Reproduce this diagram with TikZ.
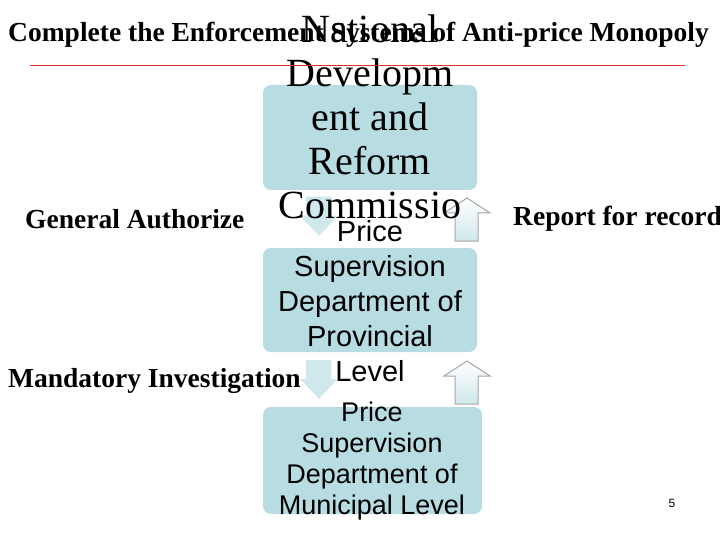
\documentclass[tikz,border=0pt]{standalone}
\usepackage{fontspec}
\setmainfont{Liberation Serif}
\newfontfamily\sansf{Liberation Sans}
\definecolor{boxblue}{HTML}{B7DDE3}
\definecolor{arrblue}{HTML}{CFE8EC}
\definecolor{rulered}{HTML}{E03030}
\begin{document}
\begin{tikzpicture}[x=1pt,y=-1pt,
  box/.style={fill=boxblue,rounded corners=8pt,draw=none},
  lab/.style={font=\bfseries\fontsize{27.5}{30}\selectfont,anchor=west,inner sep=0},
  btext/.style={align=center,inner sep=0},
  darrow/.style={fill=arrblue,draw=white,line width=1.5pt,line join=miter},
  uarrow/.style={top color=white,bottom color=arrblue,draw=gray!70,line width=1pt}]
\useasboundingbox (0,0) rectangle (720,540);
\node[box,minimum width=214pt,minimum height=105pt] (b1) at (370,137.5) {};
\node[box,minimum width=214pt,minimum height=104pt] (b2) at (370,300) {};
\node[box,minimum width=219pt,minimum height=107pt] (b3) at (372.5,460.5) {};
\foreach \y in {0,163}{
  \draw[darrow] (305,196+\y) -- (332,196+\y) -- (332,215+\y) -- (340,215+\y) -- (319,237+\y) -- (298,215+\y) -- (305,215+\y) -- cycle;
  \draw[uarrow] (467,198+\y) -- (490,213+\y) -- (478,213+\y) -- (478,241+\y) -- (455,241+\y) -- (455,213+\y) -- (444,213+\y) -- cycle;
}
\node[btext,font=\fontsize{40}{44}\selectfont] (t1) at (370,117) {National\\Developm\\ent and\\Reform\\Commissio};
\node[btext,font=\sansf\fontsize{29}{35}\selectfont] (t2) at (370,301) {Price\\Supervision\\Department of\\Provincial\\Level};
\node[btext,font=\sansf\fontsize{27}{31}\selectfont] (t3) at (372,461) {Price\\Supervision\\Department of\\Municipal Level};
\node[lab] (title) at (8,35) {Complete the Enforcement Systems of Anti-price Monopoly};
\coordinate (r1) at (30,65); \coordinate (r2) at (685,65);
\draw[rulered,line width=0.6pt] (r1) -- (r2);
\node[lab] (ga) at (25,219) {General Authorize};
\node[lab] (rr) at (513,219) {Report for record};
\node[lab] (mi) at (8,381) {Mandatory Investigation};
\node[font=\sansf\fontsize{12}{14}\selectfont] (pg) at (672,503) {5};
\end{tikzpicture}
\end{document}
